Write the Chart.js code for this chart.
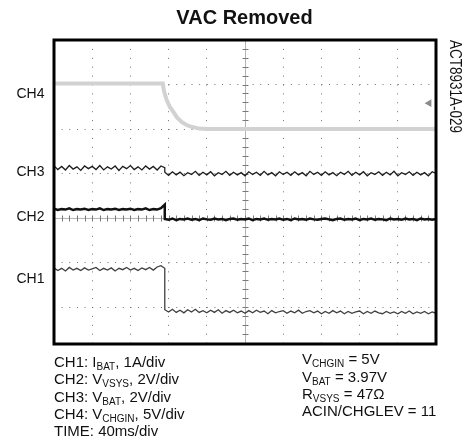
<!DOCTYPE html>
<html><head><meta charset="utf-8">
<script src="https://cdn.jsdelivr.net/npm/chart.js@4.4.0/dist/chart.umd.min.js"></script>
<style>
html,body{margin:0;padding:0;background:#fff;}
#wrap{position:relative;width:465px;height:445px;overflow:hidden;font-family:"Liberation Sans",Arial,sans-serif;color:#111;}
#c{position:absolute;left:0;top:0;}
#title{position:absolute;left:44.5px;width:400px;top:7px;text-align:center;font-weight:bold;font-size:20px;line-height:20px;white-space:nowrap;}
.t{position:absolute;white-space:nowrap;font-size:15px;line-height:15px;}
.sub{font-size:10px;position:relative;top:3px;}
#code{position:absolute;left:447px;top:40px;writing-mode:vertical-rl;font-size:13.5px;line-height:13.5px;white-space:nowrap;transform:scaleX(1.22);transform-origin:left top;}
</style></head>
<body>
<div id="wrap">
<canvas id="c" width="465" height="445"></canvas>
<div id="title">VAC Removed</div>
<div id="code">ACT8931A-029</div>
<div class="t" style="left:54px;top:354px">CH1: I<span class="sub">BAT</span>, 1A/div</div>
<div class="t" style="left:54px;top:371.3px">CH2: V<span class="sub">VSYS</span>, 2V/div</div>
<div class="t" style="left:54px;top:388.6px">CH3: V<span class="sub">BAT</span>, 2V/div</div>
<div class="t" style="left:54px;top:405.9px">CH4: V<span class="sub">CHGIN</span>, 5V/div</div>
<div class="t" style="left:54px;top:423.3px">TIME: 40ms/div</div>
<div class="t" style="left:302px;top:351.3px">V<span class="sub">CHGIN</span> = 5V</div>
<div class="t" style="left:302px;top:368.6px">V<span class="sub">BAT</span> = 3.97V</div>
<div class="t" style="left:302px;top:385.9px">R<span class="sub">VSYS</span> = 47Ω</div>
<div class="t" style="left:302px;top:403.3px">ACIN/CHGLEV = 11</div>
</div>
<script>
// time axis in divisions (40 ms/div); 2.9 repeated for the step edge
const sampleTime = [
0.0,0.1,0.2,0.3,0.4,0.5,0.6,0.7,0.8,0.9,
1.0,1.1,1.2,1.3,1.4,1.5,1.6,1.7,1.8,1.9,
2.0,2.1,2.2,2.3,2.4,2.5,2.6,2.7,2.8,2.9,
2.9,3.0,3.1,3.2,3.3,3.4,3.5,3.6,3.7,3.8,
3.9,4.0,4.1,4.2,4.3,4.4,4.5,4.6,4.7,4.8,
4.9,5.0,5.1,5.2,5.3,5.4,5.5,5.6,5.7,5.8,
5.9,6.0,6.1,6.2,6.3,6.4,6.5,6.6,6.7,6.8,
6.9,7.0,7.1,7.2,7.3,7.4,7.5,7.6,7.7,7.8,
7.9,8.0,8.1,8.2,8.3,8.4,8.5,8.6,8.7,8.8,
8.9,9.0,9.1,9.2,9.3,9.4,9.5,9.6,9.7,9.8,
9.9,10.0];

// trace levels in screen divisions (0 = centre line)
const ch3Level = [
1.17,1.09,1.16,1.08,1.18,1.10,1.15,1.07,1.17,1.11,
1.16,1.09,1.18,1.08,1.15,1.10,1.17,1.07,1.16,1.11,
1.18,1.09,1.15,1.08,1.17,1.10,1.16,1.08,1.17,1.13,
1.03,0.96,1.04,0.97,1.03,0.95,1.02,0.98,1.05,0.96,
1.03,0.97,1.04,0.95,1.02,0.98,1.05,0.96,1.03,0.97,
1.02,0.95,1.04,0.98,1.03,0.96,1.05,0.97,1.02,0.95,
1.04,0.98,1.03,0.96,1.04,0.97,1.02,0.95,1.05,0.98,
1.03,0.96,1.04,0.97,1.02,0.95,1.03,0.98,1.05,0.96,
1.03,0.97,1.04,0.95,1.02,0.98,1.04,0.96,1.03,0.97,
1.05,0.95,1.02,0.98,1.04,0.96,1.03,0.97,1.02,0.95,
1.04,1.00];

const ch2Level = [
0.21,0.18,0.20,0.19,0.22,0.18,0.20,0.19,0.21,0.18,
0.20,0.19,0.22,0.18,0.20,0.19,0.21,0.18,0.20,0.19,
0.21,0.18,0.20,0.19,0.22,0.18,0.20,0.19,0.22,0.30,
-0.02,-0.04,-0.01,-0.05,-0.02,-0.03,-0.01,-0.04,-0.02,-0.05,
-0.01,-0.03,-0.04,-0.01,-0.03,-0.02,-0.05,-0.02,-0.01,-0.04,
-0.02,-0.03,-0.01,-0.05,-0.02,-0.03,-0.01,-0.04,-0.02,-0.03,
-0.01,-0.04,-0.02,-0.05,-0.01,-0.03,-0.02,-0.04,-0.01,-0.03,
-0.04,-0.02,-0.01,-0.03,-0.05,-0.02,-0.01,-0.04,-0.02,-0.03,
-0.01,-0.05,-0.02,-0.03,-0.01,-0.04,-0.02,-0.03,-0.05,-0.01,
-0.03,-0.02,-0.04,-0.01,-0.03,-0.02,-0.05,-0.01,-0.03,-0.02,
-0.04,-0.02];

const ch1Level = [
-1.12,-1.18,-1.13,-1.19,-1.11,-1.17,-1.13,-1.18,-1.12,-1.17,
-1.14,-1.11,-1.18,-1.13,-1.17,-1.12,-1.19,-1.13,-1.16,-1.11,
-1.17,-1.13,-1.18,-1.12,-1.16,-1.11,-1.17,-1.10,-1.07,-1.13,
-2.06,-2.11,-2.05,-2.12,-2.07,-2.13,-2.06,-2.11,-2.05,-2.12,
-2.08,-2.13,-2.07,-2.12,-2.06,-2.14,-2.08,-2.12,-2.07,-2.13,
-2.09,-2.14,-2.08,-2.13,-2.07,-2.12,-2.09,-2.15,-2.08,-2.13,
-2.10,-2.08,-2.14,-2.09,-2.13,-2.07,-2.14,-2.10,-2.08,-2.13,
-2.09,-2.15,-2.10,-2.14,-2.08,-2.13,-2.09,-2.15,-2.10,-2.14,
-2.11,-2.09,-2.15,-2.10,-2.14,-2.09,-2.13,-2.15,-2.10,-2.14,
-2.11,-2.15,-2.10,-2.14,-2.09,-2.15,-2.11,-2.14,-2.10,-2.15,
-2.11,-2.14];

const ch4Time  = [0, 2.85, 2.88, 2.95, 3.03, 3.12, 3.22, 3.34, 3.47, 3.6, 3.8, 4.0, 10];
const ch4Level = [3.02, 3.02, 2.85, 2.65, 2.5, 2.39, 2.26, 2.16, 2.09, 2.05, 2.01, 2.0, 2.0];

const triggerTime = [9.82];
const triggerLevel = [2.58];

const channelNames = ['CH1', 'CH2', 'CH3', 'CH4'];
const channelLabelLevel = [-1.46, -0.07, 0.94, 2.70];

const xDivs = [0, 10];
const yDivs = [-2.83, 4];

function pts(t, v){ return v.map((val, i) => ({x: t[i], y: val})); }

const decor = {
  id: 'scopeDecor',
  beforeDatasetsDraw(chart){
    const {ctx, chartArea: a, scales: {x, y}} = chart;
    const cx = Math.round(x.getPixelForValue(5)) + 0.5;
    const cy = Math.round(y.getPixelForValue(0)) + 0.5;
    ctx.save();
    ctx.strokeStyle = '#b4b4b4'; ctx.lineWidth = 1;
    ctx.beginPath();
    ctx.moveTo(cx, a.top); ctx.lineTo(cx, a.bottom);
    ctx.moveTo(a.left, cy); ctx.lineTo(a.right, cy);
    ctx.stroke();
    ctx.strokeStyle = '#7a7a7a';
    ctx.beginPath();
    for (let k = 0; k <= 50; k++) {
      const px = Math.round(x.getPixelForValue(k * 0.2)) + 0.5;
      ctx.moveTo(px, cy - 3); ctx.lineTo(px, cy + 3);
    }
    for (let k = 0; k <= 40; k++) {
      const v = 4 - k * 0.2;
      if (v < yDivs[0]) break;
      const py = Math.round(y.getPixelForValue(v)) + 0.5;
      ctx.moveTo(cx - 3, py); ctx.lineTo(cx + 3, py);
    }
    ctx.stroke();
    ctx.restore();
  },
  afterDatasetsDraw(chart){
    const {ctx, chartArea: a, scales: {y}} = chart;
    ctx.save();
    ctx.strokeStyle = '#000'; ctx.lineWidth = 3;
    ctx.strokeRect(a.left, a.top, a.right - a.left, a.bottom - a.top);
    ctx.fillStyle = '#111';
    ctx.font = '14px "Liberation Sans", Arial, sans-serif';
    ctx.textAlign = 'right'; ctx.textBaseline = 'alphabetic';
    channelNames.forEach((n, i) => ctx.fillText(n, a.left - 9.5, y.getPixelForValue(channelLabelLevel[i])));
    ctx.restore();
  }
};

new Chart(document.getElementById('c'), {
  type: 'scatter',
  data: {
    datasets: [
      {label: 'CH4', data: pts(ch4Time, ch4Level), showLine: true, borderColor: '#d2d2d2', borderWidth: 4, pointRadius: 0, tension: 0},
      {label: 'CH3', data: pts(sampleTime, ch3Level), showLine: true, borderColor: '#1e1e1e', borderWidth: 1.3, pointRadius: 0},
      {label: 'CH2', data: pts(sampleTime, ch2Level), showLine: true, borderColor: '#111', borderWidth: 2.5, pointRadius: 0},
      {label: 'CH1', data: pts(sampleTime, ch1Level), showLine: true, borderColor: '#404040', borderWidth: 1.3, pointRadius: 0},
      {label: 'trig', data: pts(triggerTime, triggerLevel), showLine: false, pointStyle: 'triangle', rotation: -90, pointRadius: 4.5, backgroundColor: '#8a8a8a', borderWidth: 0}
    ]
  },
  options: {
    responsive: false,
    animation: false,
    devicePixelRatio: 1,
    events: [],
    layout: {padding: {left: 54, right: 29, top: 40, bottom: 101}},
    plugins: {legend: {display: false}, tooltip: {enabled: false}, title: {display: false}},
    scales: {
      x: {type: 'linear', min: xDivs[0], max: xDivs[1],
          ticks: {display: false, stepSize: 1},
          grid: {color: '#707070', lineWidth: 1, drawTicks: false},
          border: {display: false, dash: [1, 7.9]}},
      y: {type: 'linear', min: yDivs[0], max: yDivs[1],
          ticks: {display: false, stepSize: 1},
          grid: {color: '#707070', lineWidth: 1, drawTicks: false},
          border: {display: false, dash: [1, 6.64]}}
    }
  },
  plugins: [decor]
});
</script>
</body></html>
